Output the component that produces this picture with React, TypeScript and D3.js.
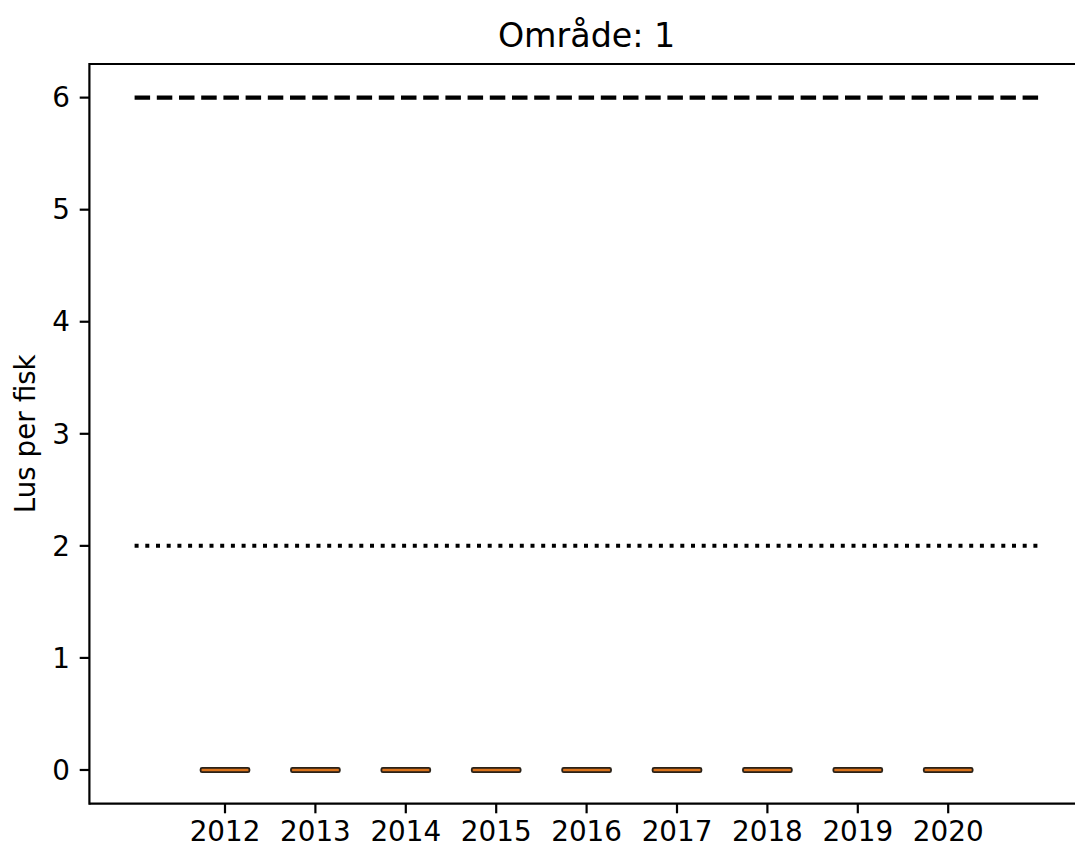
import React from "react";
import * as d3 from "d3";

// years on the x axis (box positions 1..9)
const years = ["2012", "2013", "2014", "2015", "2016", "2017", "2018", "2019", "2020"];
// lice per fish samples for each year (all zero in this area)
const lusPerYear: number[][] = [
  [0, 0, 0, 0],
  [0, 0, 0, 0],
  [0, 0, 0, 0],
  [0, 0, 0, 0],
  [0, 0, 0, 0],
  [0, 0, 0, 0],
  [0, 0, 0, 0],
  [0, 0, 0, 0],
  [0, 0, 0, 0],
];
const yTicks = [0, 1, 2, 3, 4, 5, 6];
const upperLimit = 6; // dashed
const lowerLimit = 2; // dotted
const title = "Område: 1";
const yLabel = "Lus per fisk";

const W = 1075;
const H = 848;
const FONT = "DejaVu Sans, sans-serif";

export default function App() {
  const x = d3.scaleLinear().domain([-0.5, 10.5]).range([89.4, 1083.8]);
  const y = d3.scaleLinear().domain([-0.3, 6.3]).range([803.6, 64]);
  const [x0, x1] = x.range();
  const [yb, yt] = y.range();
  const boxW = 0.54;

  const stats = lusPerYear.map((vals, i) => {
    const s = vals.slice().sort(d3.ascending);
    const q1 = d3.quantile(s, 0.25) as number;
    const med = d3.quantile(s, 0.5) as number;
    const q3 = d3.quantile(s, 0.75) as number;
    const iqr = q3 - q1;
    const lo = d3.min(s.filter((v) => v >= q1 - 1.5 * iqr)) as number;
    const hi = d3.max(s.filter((v) => v <= q3 + 1.5 * iqr)) as number;
    return { pos: i + 1, q1, med, q3, lo, hi };
  });

  return (
    <svg
      width={W}
      height={H}
      style={{ position: "absolute", left: 0, top: 0, background: "#fff" }}
      fontFamily={FONT}
    >
      {/* reference lines */}
      <line
        x1={x(0)}
        x2={x(10)}
        y1={y(upperLimit)}
        y2={y(upperLimit)}
        stroke="#000"
        strokeWidth={4.2}
        strokeDasharray="15.5 6.7"
      />
      <line
        x1={x(0)}
        x2={x(10)}
        y1={y(lowerLimit)}
        y2={y(lowerLimit)}
        stroke="#000"
        strokeWidth={4}
        strokeDasharray="4 6.7"
      />

      {/* boxes */}
      {stats.map((d) => {
        const bx = x(d.pos - boxW / 2);
        const bw = x(d.pos + boxW / 2) - bx;
        const top = y(d.q3);
        const h = Math.max(y(d.q1) - top, 0);
        return (
          <g key={d.pos}>
            <line x1={x(d.pos)} x2={x(d.pos)} y1={y(d.hi)} y2={top} stroke="#000" strokeWidth={2.8} />
            <line x1={x(d.pos)} x2={x(d.pos)} y1={y(d.q1)} y2={y(d.lo)} stroke="#000" strokeWidth={2.8} />
            <rect
              x={bx}
              y={top - 2.2}
              width={bw}
              height={h + 4.4}
              rx={1.5}
              fill="#c8651b"
              stroke="#2a2218"
              strokeWidth={1.8}
            />
            <line x1={bx + 1.5} x2={bx + bw - 1.5} y1={y(d.med)} y2={y(d.med)} stroke="#d9731c" strokeWidth={1.8} />
          </g>
        );
      })}

      {/* spines (right one falls outside the picture) */}
      <line x1={x0} x2={x1} y1={yt} y2={yt} stroke="#000" strokeWidth={2.2} />
      <line x1={x0} x2={x1} y1={yb} y2={yb} stroke="#000" strokeWidth={2.2} />
      <line x1={x0} x2={x0} y1={yt - 1.1} y2={yb + 1.1} stroke="#000" strokeWidth={2.2} />

      {/* y ticks */}
      {yTicks.map((t) => (
        <g key={t} transform={`translate(${x0},${y(t)})`}>
          <line x1={-9.7} x2={0} stroke="#000" strokeWidth={2.2} />
          <text x={-19.4} dy="0.35em" textAnchor="end" fontSize={27.8} fill="#000">
            {t}
          </text>
        </g>
      ))}

      {/* x ticks */}
      {years.map((yr, i) => (
        <g key={yr} transform={`translate(${x(i + 1)},${yb})`}>
          <line y1={0} y2={9.7} stroke="#000" strokeWidth={2.2} />
          <text y={37} textAnchor="middle" fontSize={27.8} fill="#000">
            {yr}
          </text>
        </g>
      ))}

      {/* y label */}
      <text
        transform={`translate(35,${(yb + yt) / 2}) rotate(-90)`}
        textAnchor="middle"
        fontSize={27.8}
        fill="#000"
      >
        {yLabel}
      </text>

      {/* title */}
      <text x={(x0 + x1) / 2} y={47} textAnchor="middle" fontSize={33.3} fill="#000">
        {title}
      </text>
    </svg>
  );
}
